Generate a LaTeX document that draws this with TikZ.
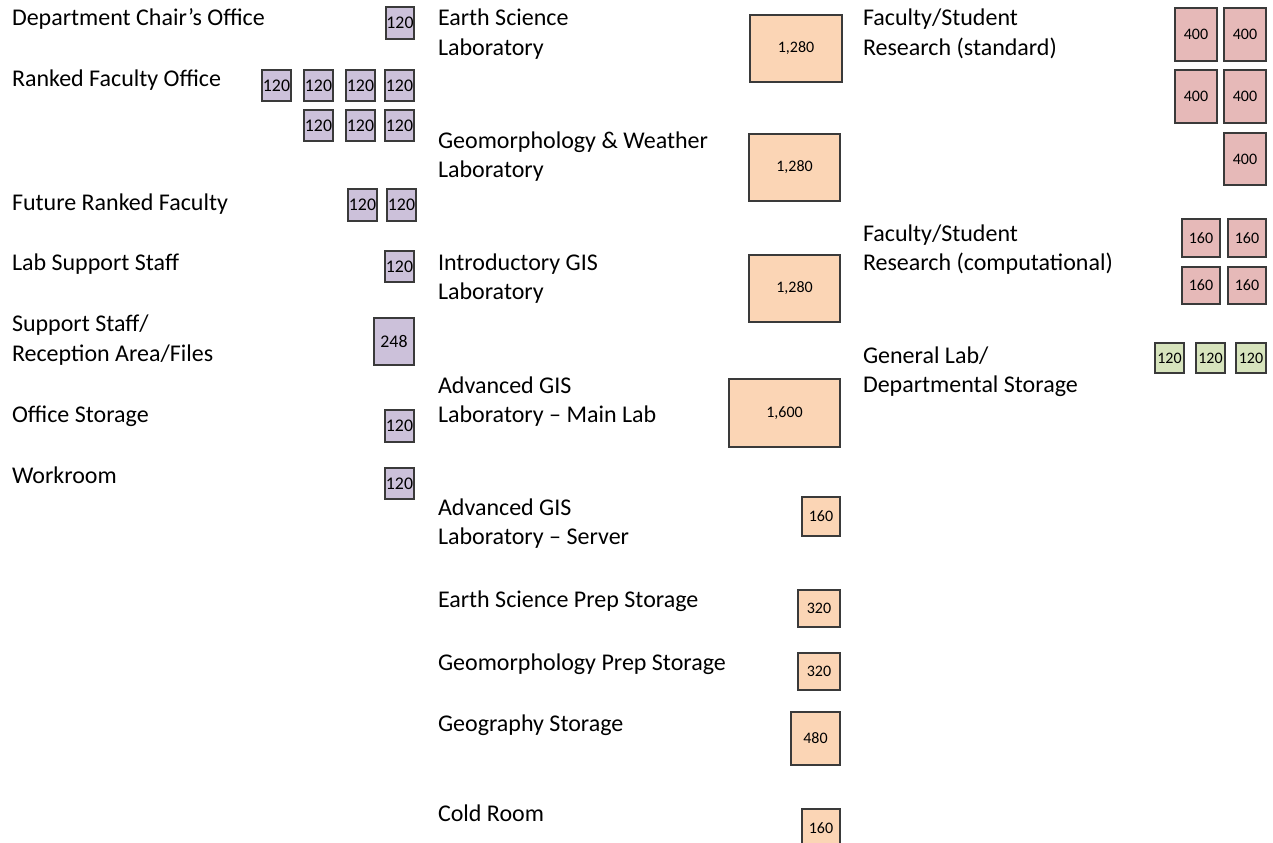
\documentclass[tikz,border=0pt]{standalone}
\usepackage{fontspec}
\setmainfont{Carlito}
\definecolor{purplefill}{HTML}{CCC1DA}
\definecolor{orangefill}{HTML}{FBD5B5}
\definecolor{pinkfill}{HTML}{E6B9B8}
\definecolor{greenfill}{HTML}{D7E4BD}
\definecolor{edgegray}{HTML}{3A3A3A}
\newcommand{\roombox}[7]{\node[#2, minimum width={(#5-#3)*0.5pt}, minimum height={(#6-#4)*0.5pt}] (#1) at ({(#3+#5)/2},{(#4+#6)/2}) {#7};}
\tikzset{
  room/.style={draw=edgegray, line width=0.6pt, inner sep=0pt, outer sep=0pt, font=\fontsize{8}{9.6}\selectfont},
  proom/.style={room, fill=purplefill, font=\fontsize{8.9}{10}\selectfont},
  oroom/.style={room, fill=orangefill},
  rroom/.style={room, fill=pinkfill},
  groom/.style={room, fill=greenfill},
  lbl/.style={anchor=base west, inner sep=0pt, outer sep=0pt, align=left, font=\fontsize{12}{14.75}\selectfont}
}
\begin{document}
\begin{tikzpicture}[x=0.5pt, y=-0.5pt]
\fill[white] (0,0) rectangle (1273,842);
\useasboundingbox (0,0) rectangle (1273,842);
% left column labels (two-line labels are anchored at their last line)
\node[lbl] (l1) at (12,25.7) {Department Chair’s Office};
\node[lbl] (l2) at (12,86) {Ranked Faculty Office};
\node[lbl] (l3) at (12,210) {Future Ranked Faculty};
\node[lbl] (l4) at (12,270.7) {Lab Support Staff};
\node[lbl] (l5) at (12,361.2) {Support Staff/\\Reception Area/Files};
\node[lbl] (l6) at (12,422.7) {Office Storage};
\node[lbl] (l7) at (12,483.3) {Workroom};
% left boxes
\roombox{pa}{proom}{386}{7}{414}{39}{120}
\roombox{pb1}{proom}{262}{70}{291}{101}{120}
\roombox{pb2}{proom}{304}{70}{333}{101}{120}
\roombox{pb3}{proom}{346}{70}{375}{101}{120}
\roombox{pb4}{proom}{385}{70}{414}{101}{120}
\roombox{pb5}{proom}{304}{110}{333}{141}{120}
\roombox{pb6}{proom}{346}{110}{375}{141}{120}
\roombox{pb7}{proom}{385}{110}{414}{141}{120}
\roombox{pc1}{proom}{348}{189}{377}{221}{120}
\roombox{pc2}{proom}{387}{189}{416}{221}{120}
\roombox{pd}{proom}{385}{251}{414}{282}{120}
\roombox{pe}{proom}{374}{318}{414}{365}{248}
\roombox{pf}{proom}{385}{410}{414}{442}{120}
\roombox{pg}{proom}{385}{468}{414}{499}{120}
% middle column labels
\node[lbl] (m1) at (438,55.2) {Earth Science\\Laboratory};
\node[lbl] (m2) at (438,177.8) {Geomorphology \& Weather\\Laboratory};
\node[lbl] (m3) at (438,299.5) {Introductory GIS\\Laboratory};
\node[lbl] (m4) at (438,422.8) {Advanced GIS\\Laboratory – Main Lab};
\node[lbl] (m5) at (438,544.5) {Advanced GIS\\Laboratory – Server};
\node[lbl] (m6) at (438,607.3) {Earth Science Prep Storage};
\node[lbl] (m7) at (438,670) {Geomorphology Prep Storage};
\node[lbl] (m8) at (438,731.7) {Geography Storage};
\node[lbl] (m9) at (438,821.7) {Cold Room};
% middle boxes
\roombox{oa}{oroom}{750}{15}{842}{82}{1,280}
\roombox{ob}{oroom}{749}{134}{840}{201}{1,280}
\roombox{oc}{oroom}{749}{255}{840}{322}{1,280}
\roombox{od}{oroom}{729}{379}{840}{447}{1,600}
\roombox{oe}{oroom}{802}{497}{840}{536}{160}
\roombox{of}{oroom}{798}{590}{840}{627}{320}
\roombox{og}{oroom}{798}{653}{840}{690}{320}
\roombox{oh}{oroom}{791}{712}{840}{765}{480}
\roombox{oi}{oroom}{802}{809}{840}{847}{160}
% right column labels
\node[lbl] (r1) at (863,55.2) {Faculty/Student\\Research (standard)};
\node[lbl] (r2) at (863,270.5) {Faculty/Student\\Research (computational)};
\node[lbl] (r3) at (863,392.5) {General Lab/\\Departmental Storage};
% right boxes
\roombox{ra1}{rroom}{1175}{8}{1217}{61}{400}
\roombox{ra2}{rroom}{1224}{8}{1266}{61}{400}
\roombox{ra3}{rroom}{1175}{70}{1217}{123}{400}
\roombox{ra4}{rroom}{1224}{70}{1266}{123}{400}
\roombox{ra5}{rroom}{1224}{133}{1266}{185}{400}
\roombox{rb1}{rroom}{1182}{219}{1220}{257}{160}
\roombox{rb2}{rroom}{1228}{219}{1266}{257}{160}
\roombox{rb3}{rroom}{1182}{267}{1220}{304}{160}
\roombox{rb4}{rroom}{1228}{267}{1266}{304}{160}
\roombox{ga}{groom}{1155}{343}{1184}{373}{120}
\roombox{gb}{groom}{1196}{343}{1225}{373}{120}
\roombox{gc}{groom}{1236}{343}{1266}{373}{120}
\end{tikzpicture}
\end{document}
